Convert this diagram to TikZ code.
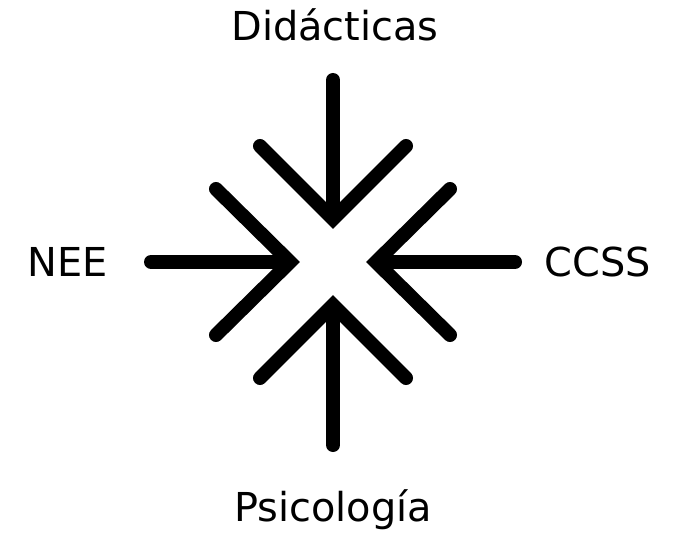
\documentclass[tikz,border=0pt]{standalone}
\usepackage{fontspec}
\setmainfont{DejaVu Sans}
\begin{document}
\begin{tikzpicture}[x=1bp,y=-1bp,
  arr/.style={line width=14bp,line cap=round,line join=miter,black},
  lbl/.style={font=\fontsize{40}{48}\selectfont,inner sep=0pt,anchor=base}]
\useasboundingbox (0,0) rectangle (674,536);
% labels
\node[lbl] (top) at (335,41) {Didácticas};
\node[lbl] (left) at (68,276) {NEE};
\node[lbl] (right) at (598,276) {CCSS};
\node[lbl] (bot) at (333,521) {Psicología};
% top arrow
\coordinate (ts) at (333,80);
\coordinate (ta) at (333,219);
\coordinate (tl) at (260,146);
\coordinate (tr) at (406,146);
\draw[arr] (ts) -- (333,210);
\draw[arr] (tl) -- (ta) -- (tr);
% bottom arrow
\coordinate (bs) at (333,445);
\coordinate (ba) at (333,305);
\coordinate (bl) at (260,378);
\coordinate (br) at (406,378);
\draw[arr] (bs) -- (333,315);
\draw[arr] (bl) -- (ba) -- (br);
% left arrow
\coordinate (ls) at (151,262);
\coordinate (la) at (290,262);
\coordinate (lt) at (216,189);
\coordinate (lb) at (216,335);
\draw[arr] (ls) -- (280,262);
\draw[arr] (lt) -- (la) -- (lb);
% right arrow
\coordinate (rs) at (515,262);
\coordinate (ra) at (376,262);
\coordinate (rt) at (450,189);
\coordinate (rb) at (450,335);
\draw[arr] (rs) -- (386,262);
\draw[arr] (rt) -- (ra) -- (rb);
\end{tikzpicture}
\end{document}
